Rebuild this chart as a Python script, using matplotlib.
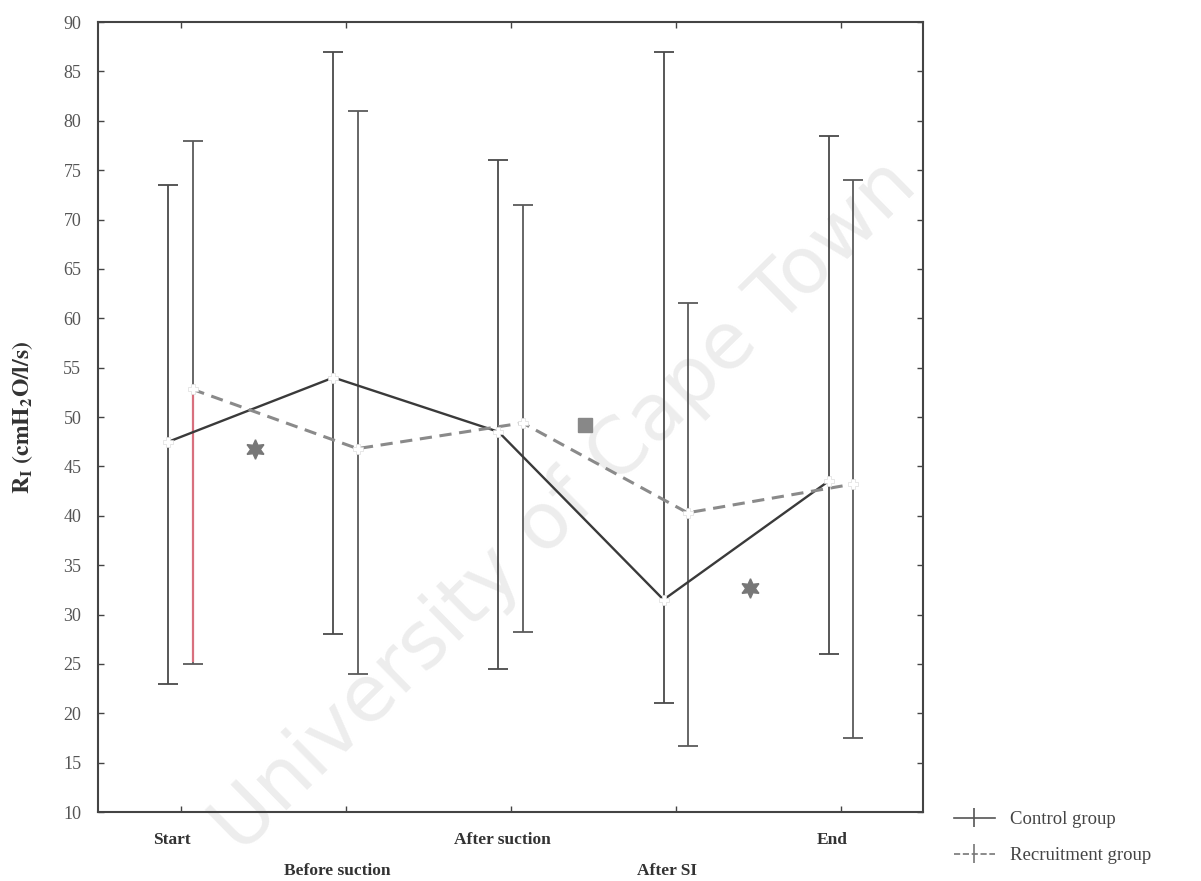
import matplotlib
matplotlib.use("Agg")
import matplotlib.pyplot as plt
import numpy as np

plt.rcParams['font.family'] = ['Liberation Serif', 'DejaVu Serif']
plt.rcParams['mathtext.fontset'] = 'stix'

# data
stages = ["Start", "Before suction", "After suction", "After SI", "End"]
control_mean = [47.5, 54.0, 48.5, 31.5, 43.5]
control_low = [23.0, 28.0, 24.5, 21.0, 26.0]
control_high = [73.5, 87.0, 76.0, 87.0, 78.5]
recruit_mean = [52.8, 46.8, 49.4, 40.3, 43.2]
recruit_low = [25.0, 24.0, 28.2, 16.7, 17.5]
recruit_high = [78.0, 81.0, 71.5, 61.5, 74.0]
# significance marks (x between stages, y value)
star_x = [0.45, 3.45]
star_y = [46.8, 32.7]
square_x = [2.45]
square_y = [49.2]

fig = plt.figure(figsize=(12.01, 8.81), dpi=100)
ax = fig.add_axes([0.0816, 0.0783, 0.687, 0.8967])

x = np.arange(len(stages))
off = 0.073
grey = '#4a4a4a'

c_err = [np.array(control_mean) - np.array(control_low),
         np.array(control_high) - np.array(control_mean)]
r_err = [np.array(recruit_mean) - np.array(recruit_low),
         np.array(recruit_high) - np.array(recruit_mean)]

ax.errorbar(x - off, control_mean, yerr=c_err, fmt='none', ecolor=grey,
            elinewidth=1.3, capsize=7, capthick=1.3, zorder=2)
ax.errorbar(x + off, recruit_mean, yerr=r_err, fmt='none', ecolor='#5a5a5a',
            elinewidth=1.3, capsize=7, capthick=1.3, zorder=2)
# start whisker of recruitment group is red in the original
ax.plot([x[0] + off] * 2, [recruit_low[0] + 0.3, recruit_mean[0] - 0.5],
        color='#d8707e', lw=1.6, zorder=3)

ax.plot(x - off, control_mean, color='#3a3a3a', lw=1.7, zorder=4)
ax.plot(x + off, recruit_mean, color='#8a8a8a', lw=2.2, ls=(0, (4, 2.5)), zorder=4)
ax.plot(x - off, control_mean, ls='none', marker='P', ms=7, color='white',
        mec='#dddddd', mew=0.5, zorder=5)
ax.plot(x + off, recruit_mean, ls='none', marker='P', ms=7, color='white',
        mec='#dddddd', mew=0.5, zorder=5)

ax.plot(star_x, star_y, ls='none', marker=(6, 1, 0), ms=14, color='#777777', zorder=5)
ax.plot(square_x, square_y, ls='none', marker='s', ms=10, color='#888888', zorder=5)

ax.set_xlim(-0.5, 4.5)
ax.set_ylim(10, 90)
ax.set_yticks(np.arange(10, 91, 5))
ax.set_yticklabels([str(v) for v in range(10, 91, 5)], color='#555555', fontsize=13)
ax.set_xticks(x)
ax.set_xticklabels([])
ax.tick_params(direction='in', length=4, width=1, color='#444444',
               top=True, right=True)
ax.tick_params(axis='y', pad=12)
for i, s in enumerate(stages):
    ypos = -0.035 if i % 2 == 0 else -0.075
    ax.text(x[i] - 0.05, ypos, s, transform=ax.get_xaxis_transform(),
            ha='center', va='center', fontsize=12.5, fontweight='bold',
            color='#333333')

for sp in ax.spines.values():
    sp.set_color('#444444')
    sp.set_linewidth(1.5)

ax.set_ylabel(r"$\mathbf{R_I}$ $\mathbf{(cmH_2O/l/s)}$", fontsize=17,
              color='#333333', labelpad=20)

# legend
lc = ax.errorbar([], [], yerr=[], color='#555555', lw=1.2, capsize=5,
                 label='Control group')
lr = ax.errorbar([], [], yerr=[], color='#777777', lw=1.2, ls='--', capsize=5,
                 label='Recruitment group')
fig.legend(handles=[lc, lr], loc='lower left', bbox_to_anchor=(0.78, 0.0),
           frameon=False, fontsize=13.5, handlelength=2.2, labelcolor='#444444',
           labelspacing=1.0)

# watermark
ax.text(0.47, 0.425, "University of Cape Town", transform=fig.transFigure,
        rotation=44.5, ha='center', va='center', fontsize=57,
        family='DejaVu Sans', color='#ededed', zorder=1, clip_on=False)

fig.savefig("out.png", dpi=100)
